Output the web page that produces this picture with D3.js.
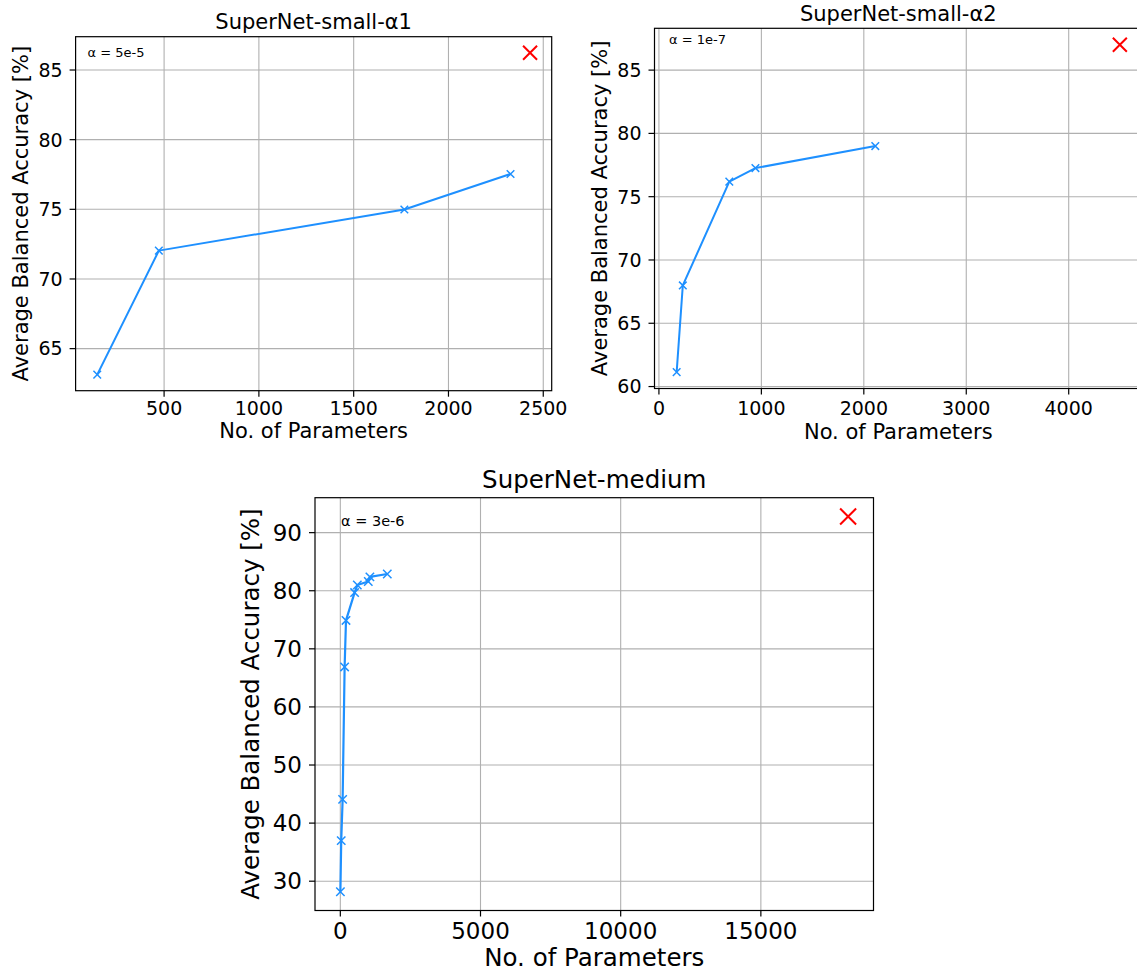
<!DOCTYPE html>
<html>
<head>
<meta charset="utf-8">
<script src="https://cdn.jsdelivr.net/npm/d3@7"></script>
<style>
  body { margin: 0; background: #fff; }
  svg { font-family: "DejaVu Sans", sans-serif; display: block; }
</style>
</head>
<body>
<svg width="1137" height="974"></svg>
<script>
const svg_width = 1137;
const svg_height = 974;

// SuperNet-small-α1
const small1_params = [150, 475, 1770, 2330];
const small1_acc = [63.1, 72.0, 74.95, 77.5];
// SuperNet-small-α2
const small2_params = [178, 238, 692, 947, 2117];
const small2_acc = [61.1, 67.95, 76.15, 77.22, 78.96];
// SuperNet-medium
const medium_params = [20, 50, 100, 171, 220, 527, 624, 1015, 1073, 1693];
const medium_acc = [28.1, 36.9, 44.0, 66.8, 74.8, 79.6, 80.9, 81.5, 82.3, 82.8];
// the red cross in each panel
const ref_params = [2433, 4504, 18130];
const ref_acc = [86.2, 86.97, 92.7];

const titles = ["SuperNet-small-α1", "SuperNet-small-α2", "SuperNet-medium"];
const alpha_labels = ["α = 5e-5", "α = 1e-7", "α = 3e-6"];
const x_ticks_small1 = [500, 1000, 1500, 2000, 2500];
const x_ticks_small2 = [0, 1000, 2000, 3000, 4000];
const x_ticks_medium = [0, 5000, 10000, 15000];
const y_ticks_small1 = [65, 70, 75, 80, 85];
const y_ticks_small2 = [60, 65, 70, 75, 80, 85];
const y_ticks_medium = [30, 40, 50, 60, 70, 80, 90];

const blue = "#1e90ff";
const grid_color = "#b0b0b0";

// where each axes box sits on the page and how big its text is
const layouts = [
  { left: 75.6, right: 551.7, top: 36.7, bottom: 390.7, tick_font: 19, label_font: 21, title_y: 29, xtick_dy: 24.5, xlabel_y: 438, ylabel_x: 28, alpha_font: 13, alpha_dx: 12, alpha_dy: 20, mark: 3.8, ref_mark: 7, line_w: 2 },
  { left: 654.5, right: 1142, top: 28.3, bottom: 388.5, tick_font: 19, label_font: 21, title_y: 20.5, xtick_dy: 26, xlabel_y: 439, ylabel_x: 606.5, alpha_font: 13, alpha_dx: 14.5, alpha_dy: 16, mark: 3.8, ref_mark: 7, line_w: 2 },
  { left: 315, right: 873.5, top: 497.7, bottom: 910.5, tick_font: 23, label_font: 24.5, title_y: 488, xtick_dy: 28, xlabel_y: 966, ylabel_x: 259, alpha_font: 14.5, alpha_dx: 26, alpha_dy: 28, mark: 4.2, ref_mark: 8, line_w: 2.2 }
];

function paddedExtent(values) {
  const ext = d3.extent(values);
  const m = (ext[1] - ext[0]) * 0.05;
  return [ext[0] - m, ext[1] + m];
}

function crossPath(s) {
  return `M ${-s} ${-s} L ${s} ${s} M ${-s} ${s} L ${s} ${-s}`;
}

function drawPanel(i, params, acc, x_ticks, y_ticks) {
  const lay = layouts[i];
  const w = lay.right - lay.left;
  const h = lay.bottom - lay.top;

  const x = d3.scaleLinear()
    .domain(paddedExtent(params.concat([ref_params[i]])))
    .range([lay.left, lay.right]);
  const y = d3.scaleLinear()
    .domain(paddedExtent(acc.concat([ref_acc[i]])))
    .range([lay.bottom, lay.top]);

  const g = d3.select("svg").append("g").attr("class", "panel-" + i);

  // grid lines
  g.append("g")
    .attr("transform", `translate(0,${lay.bottom})`)
    .call(d3.axisBottom(x).tickValues(x_ticks).tickSize(-h).tickFormat(""))
    .call(sel => sel.select(".domain").remove())
    .selectAll("line").attr("stroke", grid_color).attr("stroke-width", 1.1);
  g.append("g")
    .attr("transform", `translate(${lay.left},0)`)
    .call(d3.axisLeft(y).tickValues(y_ticks).tickSize(-w).tickFormat(""))
    .call(sel => sel.select(".domain").remove())
    .selectAll("line").attr("stroke", grid_color).attr("stroke-width", 1.1);

  // the series
  const pts = params.map((p, k) => [p, acc[k]]);
  const line = d3.line().x(d => x(d[0])).y(d => y(d[1]));
  g.append("path")
    .attr("d", line(pts))
    .attr("fill", "none")
    .attr("stroke", blue)
    .attr("stroke-width", lay.line_w)
    .attr("stroke-linejoin", "round");
  g.selectAll(".mark").data(pts).enter().append("path")
    .attr("class", "mark")
    .attr("transform", d => `translate(${x(d[0])},${y(d[1])})`)
    .attr("d", crossPath(lay.mark))
    .attr("stroke", blue)
    .attr("stroke-width", 1.5);

  // red cross
  g.append("path")
    .attr("transform", `translate(${x(ref_params[i])},${y(ref_acc[i])})`)
    .attr("d", crossPath(lay.ref_mark))
    .attr("stroke", "red")
    .attr("stroke-width", 2);

  // spines
  g.append("rect")
    .attr("x", lay.left).attr("y", lay.top)
    .attr("width", w).attr("height", h)
    .attr("fill", "none").attr("stroke", "black").attr("stroke-width", 1.2);

  // tick marks and labels
  const xa = g.append("g")
    .attr("transform", `translate(0,${lay.bottom})`)
    .call(d3.axisBottom(x).tickValues(x_ticks).tickSize(6).tickFormat(d3.format("d")));
  xa.select(".domain").remove();
  xa.selectAll("line").attr("stroke", "black").attr("stroke-width", 1.2);
  xa.selectAll("text")
    .attr("y", lay.xtick_dy).attr("dy", null)
    .attr("fill", "black")
    .style("font-size", lay.tick_font + "px")
    .style("font-family", "DejaVu Sans");

  const ya = g.append("g")
    .attr("transform", `translate(${lay.left},0)`)
    .call(d3.axisLeft(y).tickValues(y_ticks).tickSize(6).tickPadding(7).tickFormat(d3.format("d")));
  ya.select(".domain").remove();
  ya.selectAll("line").attr("stroke", "black").attr("stroke-width", 1.2);
  ya.selectAll("text")
    .attr("dy", "0.36em")
    .attr("fill", "black")
    .style("font-size", lay.tick_font + "px")
    .style("font-family", "DejaVu Sans");

  // texts
  g.append("text")
    .attr("x", (lay.left + Math.min(lay.right, svg_width + 5)) / 2)
    .attr("y", lay.title_y)
    .attr("text-anchor", "middle")
    .style("font-size", lay.label_font + "px")
    .text(titles[i]);
  g.append("text")
    .attr("x", (lay.left + lay.right) / 2)
    .attr("y", lay.xlabel_y)
    .attr("text-anchor", "middle")
    .style("font-size", lay.label_font + "px")
    .text("No. of Parameters");
  g.append("text")
    .attr("transform", `translate(${lay.ylabel_x},${(lay.top + lay.bottom) / 2}) rotate(-90)`)
    .attr("text-anchor", "middle")
    .style("font-size", lay.label_font + "px")
    .text("Average Balanced Accuracy [%]");
  g.append("text")
    .attr("x", lay.left + lay.alpha_dx)
    .attr("y", lay.top + lay.alpha_dy)
    .style("font-size", lay.alpha_font + "px")
    .text(alpha_labels[i]);
}

drawPanel(0, small1_params, small1_acc, x_ticks_small1, y_ticks_small1);
drawPanel(1, small2_params, small2_acc, x_ticks_small2, y_ticks_small2);
drawPanel(2, medium_params, medium_acc, x_ticks_medium, y_ticks_medium);
</script>
</body>
</html>
